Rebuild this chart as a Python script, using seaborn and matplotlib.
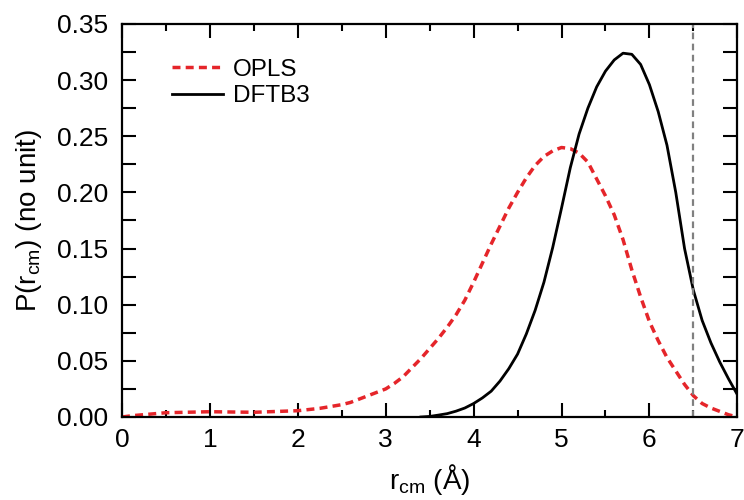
import numpy as np
import pandas as pd
import matplotlib
matplotlib.use("Agg")
import matplotlib.pyplot as plt
from matplotlib.ticker import MultipleLocator, FixedLocator, FixedFormatter
import seaborn as sns

opls_x = [0.0, 0.12, 0.5, 1.0, 1.5, 2.0, 2.25, 2.5, 2.6, 2.7, 2.8, 2.9, 3.0, 3.1, 3.2, 3.3,
          3.4, 3.5, 3.6, 3.7, 3.8, 3.9, 4.0, 4.1, 4.2, 4.3, 4.4, 4.5, 4.6, 4.7, 4.8, 4.9, 5.0,
          5.1, 5.2, 5.3, 5.4, 5.5, 5.6, 5.7, 5.8, 5.9, 6.0, 6.1, 6.2, 6.3, 6.4, 6.5, 6.6, 6.7,
          6.8, 6.9, 7.0]
opls_y = [0.0, 0.0012, 0.0038, 0.0047, 0.0042, 0.0056, 0.0077, 0.011, 0.013, 0.016, 0.019,
          0.022, 0.025, 0.030, 0.036, 0.044, 0.052, 0.061, 0.070, 0.080, 0.091, 0.104, 0.120,
          0.137, 0.154, 0.170, 0.186, 0.200, 0.213, 0.224, 0.232, 0.237, 0.240, 0.239, 0.235,
          0.227, 0.212, 0.197, 0.180, 0.158, 0.131, 0.107, 0.085, 0.068, 0.053, 0.041, 0.029,
          0.019, 0.012, 0.008, 0.005, 0.002, 0.0]

dftb_x = [3.4, 3.5, 3.6, 3.7, 3.8, 3.9, 4.0, 4.1, 4.2, 4.3, 4.4, 4.5, 4.6, 4.7, 4.8, 4.9,
          5.0, 5.1, 5.2, 5.3, 5.4, 5.5, 5.6, 5.7, 5.8, 5.9, 6.0, 6.1, 6.2, 6.3, 6.4, 6.5, 6.6,
          6.7, 6.8, 6.9, 7.0]
dftb_y = [0.0, 0.0005, 0.0017, 0.003, 0.0052, 0.008, 0.012, 0.017, 0.023, 0.032, 0.043,
          0.056, 0.074, 0.095, 0.120, 0.151, 0.186, 0.222, 0.252, 0.275, 0.294, 0.308, 0.318,
          0.324, 0.323, 0.314, 0.296, 0.272, 0.242, 0.200, 0.150, 0.113, 0.086, 0.066, 0.049,
          0.034, 0.020]

ref_x = 6.5
y_ticks = [0.0, 0.025, 0.05, 0.075, 0.10, 0.125, 0.15, 0.175, 0.20, 0.225, 0.25, 0.275,
           0.30, 0.325, 0.35]
y_labels = ["0.00", "", "0.05", "", "0.10", "", "0.15", "", "0.20", "", "0.25", "",
            "0.30", "", "0.35"]

plt.rcParams.update({
    'font.family': ['Liberation Sans', 'DejaVu Sans'],
    'mathtext.fontset': 'custom',
    'mathtext.rm': 'Liberation Sans',
    'mathtext.it': 'Liberation Sans',
    'xtick.direction': 'in', 'ytick.direction': 'in',
    'xtick.top': True, 'ytick.right': True,
    'xtick.bottom': True, 'ytick.left': True,
    'xtick.major.size': 10, 'ytick.major.size': 10,
    'xtick.minor.size': 5, 'ytick.minor.size': 5,
    'xtick.major.width': 1.5, 'ytick.major.width': 1.5,
    'xtick.minor.width': 1.5, 'ytick.minor.width': 1.5,
    'xtick.color': 'black', 'ytick.color': 'black',
    'xtick.labelsize': 19, 'ytick.labelsize': 19,
    'xtick.major.pad': 8, 'ytick.major.pad': 10,
    'axes.linewidth': 1.6,
})

fig = plt.figure(figsize=(7.44, 5.0), dpi=100)
ax = fig.add_axes([0.164, 0.166, 0.827, 0.786])

df_o = pd.DataFrame({"x": opls_x, "y": opls_y})
df_d = pd.DataFrame({"x": dftb_x, "y": dftb_y})
sns.lineplot(data=df_o, x="x", y="y", ax=ax, color="#e5252a", lw=2.5,
             linestyle=(0, (2.3, 1.5)), label="OPLS", sort=True)
sns.lineplot(data=df_d, x="x", y="y", ax=ax, color="black", lw=2.0, label="DFTB3", sort=True)
ax.axvline(ref_x, color="#808080", lw=1.6, linestyle=(0, (3, 2)))

ax.set_xlim(0, 7)
ax.xaxis.set_major_locator(MultipleLocator(1))
ax.xaxis.set_minor_locator(MultipleLocator(0.5))
ax.yaxis.set_major_locator(FixedLocator(y_ticks))
ax.yaxis.set_major_formatter(FixedFormatter(y_labels))
ax.set_ylim(0, 0.35)
ax.tick_params(which='both', direction='in', bottom=True, left=True, top=True, right=True)

ax.set_xlabel(r"r$_{\mathregular{cm}}$ (Å)", fontsize=20, labelpad=7)
ax.set_ylabel(r"P(r$_{\mathregular{cm}}$) (no unit)", fontsize=20, labelpad=9)

leg = ax.legend(loc='upper left', bbox_to_anchor=(0.081, 0.912), frameon=False, fontsize=17.5,
                handlelength=2.1, handletextpad=0.42, labelspacing=0.2,
                borderpad=0.0, borderaxespad=0.0)

fig.savefig("out.png", dpi=100)
